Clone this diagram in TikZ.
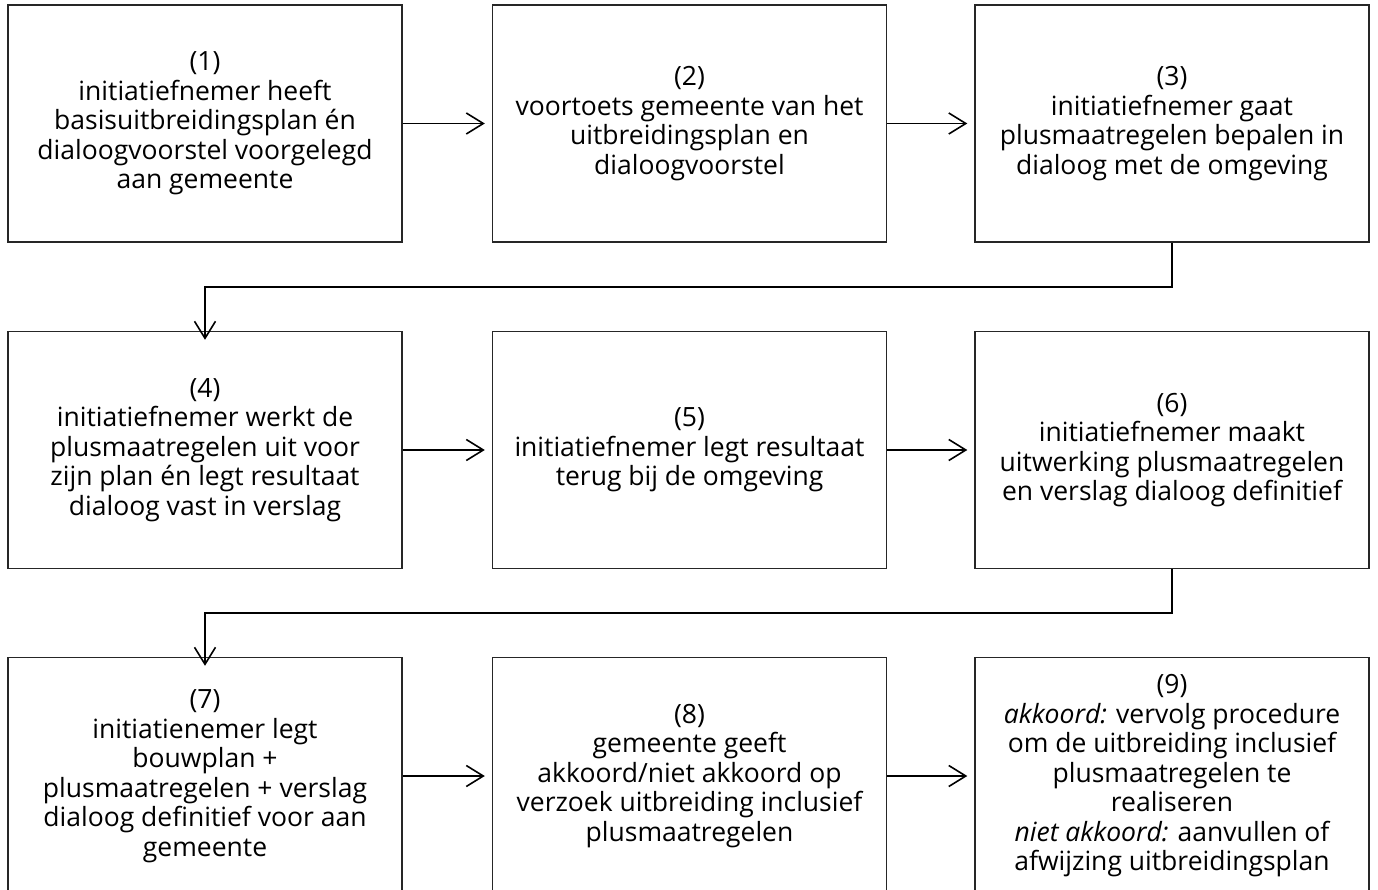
\documentclass[tikz,border=0pt]{standalone}
\usepackage{fontspec}
\setmainfont{Open Sans}
\usetikzlibrary{arrows.meta}
\begin{document}
\begin{tikzpicture}[x=1pt,y=-1pt,
  box/.style={draw=black!85,line width=1.4pt,minimum width=394pt,minimum height=237pt,
    inner sep=0pt,align=center,font=\fontsize{26.5}{29.5}\selectfont},
  conn/.style={line width=1.6pt,-{Straight Barb[length=17pt,width=21pt,line width=1.6pt]}}]
\useasboundingbox (0,0) rectangle (1378,890);
\fill[white] (0,0) rectangle (1378,890);
\begin{scope}
\clip (0,0) rectangle (1378,890);
\node[box] (b1) at (205,123.5) {(1)\\initiatiefnemer heeft\\basisuitbreidingsplan én\\dialoogvoorstel voorgelegd\\aan gemeente};
\node[box] (b2) at (689.5,123.5) {(2)\\voortoets gemeente van het\\uitbreidingsplan en\\dialoogvoorstel};
\node[box] (b3) at (1172,123.5) {(3)\\initiatiefnemer gaat\\plusmaatregelen bepalen in\\dialoog met de omgeving};
\node[box] (b4) at (205,450) {(4)\\initiatiefnemer werkt de\\plusmaatregelen uit voor\\zijn plan én legt resultaat\\dialoog vast in verslag};
\node[box] (b5) at (689.5,450) {(5)\\initiatiefnemer legt resultaat\\terug bij de omgeving};
\node[box] (b6) at (1172,450) {(6)\\initiatiefnemer maakt\\uitwerking plusmaatregelen\\en verslag dialoog definitief};
\node[box] (b7) at (205,776) {(7)\\initiatienemer legt\\bouwplan +\\plusmaatregelen + verslag\\dialoog definitief voor aan\\gemeente};
\node[box] (b8) at (689.5,776) {(8)\\gemeente geeft\\akkoord/niet akkoord op\\verzoek uitbreiding inclusief\\plusmaatregelen};
\node[box] (b9) at (1172,776) {(9)\\{\itshape akkoord:} vervolg procedure\\om de uitbreiding inclusief\\plusmaatregelen te\\realiseren\\{\itshape niet akkoord:} aanvullen of\\afwijzing uitbreidingsplan};
\end{scope}
\draw[conn] (b1.east) -- ([xshift=-7pt]b2.west);
\draw[conn] (b2.east) -- ([xshift=-7pt]b3.west);
\draw[conn] (b4.east) -- ([xshift=-7pt]b5.west);
\draw[conn] (b5.east) -- ([xshift=-7pt]b6.west);
\draw[conn] (b7.east) -- ([xshift=-7pt]b8.west);
\draw[conn] (b8.east) -- ([xshift=-7pt]b9.west);
\coordinate (k1) at (1172,287);
\coordinate (k2) at (1172,613);
\draw[conn] (b3.south) -- (k1) -- (k1 -| b4.north) -- ([yshift=-9pt]b4.north);
\draw[conn] (b6.south) -- (k2) -- (k2 -| b7.north) -- ([yshift=-9pt]b7.north);
\end{tikzpicture}
\end{document}
